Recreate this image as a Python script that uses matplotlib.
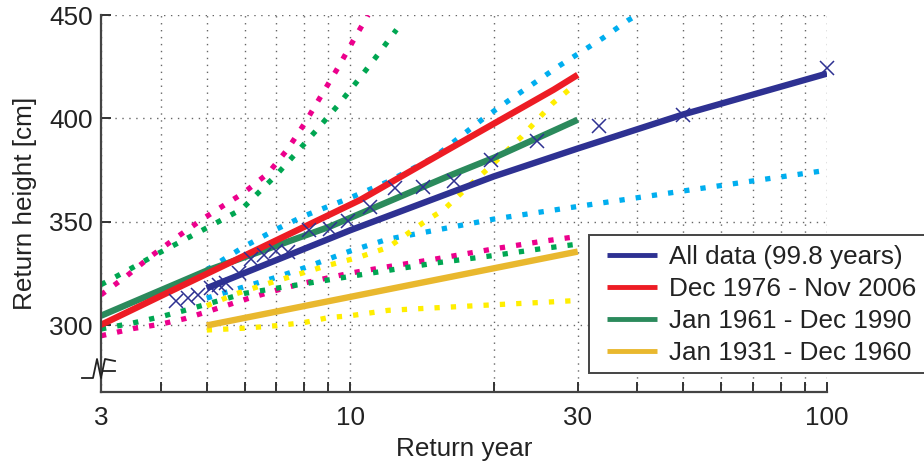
import matplotlib
matplotlib.use("Agg")
import matplotlib.pyplot as plt
from matplotlib.patches import Rectangle

plt.rcParams['font.family'] = ['Liberation Sans', 'DejaVu Sans']

""" dados lidos do grafico """
# empirical return levels (all data)
obs_ano = [4.32, 4.57, 4.8, 5.1, 5.3, 5.5, 5.84, 6.2, 6.6, 7.0, 7.4, 8.2, 9.06,
           9.9, 11.0, 12.4, 14.2, 16.5, 19.7, 24.7, 33.2, 49.8, 100]
obs_altura = [311.6, 313.5, 314.8, 318, 319.5, 320.5, 325.3, 332, 334.2, 336, 335.5,
              346, 346.5, 350.6, 357, 366.2, 366.9, 370, 380, 389.2, 396.2, 401.9, 424.6]

# fitted curves
todos_ano = [5, 10, 20, 30, 50, 100]
todos_altura = [318, 346, 372, 385.5, 402, 421.7]
todos_sup_ano = [5, 6, 7, 8, 10, 12, 15, 19, 21.5, 24.3, 27.5, 33.9, 38.3, 40]
todos_sup_altura = [326.9, 338.2, 346.5, 352.9, 361.7, 369.5, 381.3, 399.9, 408.7, 417.1,
                    425.6, 438.9, 447.5, 450]
todos_inf_ano = [5, 6, 7, 8, 10, 12, 15, 20, 30, 50, 100]
todos_inf_altura = [313.2, 318.7, 323.3, 327.8, 336, 341.7, 345.9, 351.4, 357.5, 365, 375]

p1976_ano = [3, 4.4, 10.5, 16, 26.7, 30]
p1976_altura = [300.3, 318.8, 360.7, 384.8, 413.9, 421.1]
p1976_sup_ano = [3, 3.4, 3.83, 4.33, 4.9, 5.25, 5.97, 6.73, 7.39, 8.04, 8.71, 9.41, 10.15, 10.9]
p1976_sup_altura = [314.8, 324, 333.7, 342.7, 351.4, 355.9, 364, 373.6, 385.2, 398, 411.4,
                    424.3, 437.7, 450]
p1976_inf_ano = [3, 3.5, 4, 4.5, 5, 6, 7, 8, 10, 12, 15, 20, 25, 30]
p1976_inf_altura = [295, 298.5, 300.6, 303.3, 306.6, 312.5, 317, 320.5, 325.3, 328.4, 332,
                    337, 340.5, 343]

p1961_ano = [3, 5, 9, 16, 20, 30]
p1961_altura = [304.7, 326.5, 347.5, 372, 381, 399.4]
p1961_sup_ano = [3, 3.46, 3.93, 4.51, 5.14, 5.92, 6.97, 7.72, 8.54, 9.44, 10.4, 11.42, 12.5]
p1961_sup_altura = [319.7, 327.4, 334.5, 341.7, 348.6, 356.2, 372.3, 383.6, 395, 406.6,
                    418.7, 430.8, 442.9]
p1961_inf_ano = [3, 3.5, 4, 4.5, 5, 6, 7, 8, 10, 12, 15, 20, 25, 30]
p1961_inf_altura = [298.3, 301.2, 304.2, 307.3, 310.3, 315.5, 318, 320.1, 323.7, 326.6,
                    330.1, 333.8, 337, 339.3]

p1931_ano = [5, 30]
p1931_altura = [300, 335.7]
p1931_sup_ano = [5, 5.74, 6.66, 7.8, 8.9, 10.4, 12, 12.8, 13.6, 14.6, 15.7, 17.4, 19.5,
                 22.9, 26.6, 29.5]
p1931_sup_altura = [309.5, 315.2, 320, 324.8, 328.8, 332.9, 337.7, 342.2, 346.6, 351.4,
                    355.9, 365.6, 376, 391.3, 407.4, 416]
p1931_inf_ano = [5, 6, 7, 8, 9, 10, 12, 15, 20, 25, 29]
p1931_inf_altura = [297.8, 298.7, 299.9, 301.4, 303.8, 304.7, 307.3, 308.5, 310, 311.1, 311.9]

legendas = ['All data (99.8 years)', 'Dec 1976 - Nov 2006',
            'Jan 1961 - Dec 1990', 'Jan 1931 - Dec 1960']

x_maiores = [3, 10, 30, 100]
x_menores = [4, 5, 6, 7, 8, 9, 20, 40, 50, 60, 70, 80, 90]
y_ticks = [300, 350, 400, 450]

AZUL = '#2E3192'
VERMELHO = '#ED1C24'
VERDE = '#2B8A5C'
OURO = '#E9B82E'
ROSA = '#EC008C'
VERDE_CLARO = '#00A651'
CIANO = '#00AEEF'
AMARELO = '#FFEE00'
TEXTO = '#222222'
FONTE = 18.8

W, H = 924, 462
fig = plt.figure(figsize=(W / 100, H / 100), dpi=100)
ax = fig.add_axes([101 / W, 1 - 391.7 / H, 726 / W, 376.7 / H])

pontilhado = dict(lw=3.8, linestyle=(0, (1, 2.1)), dash_capstyle='butt')
for xs, ys, cor in [(p1976_sup_ano, p1976_sup_altura, ROSA),
                    (p1976_inf_ano, p1976_inf_altura, ROSA),
                    (p1961_sup_ano, p1961_sup_altura, VERDE_CLARO),
                    (p1961_inf_ano, p1961_inf_altura, VERDE_CLARO),
                    (todos_sup_ano, todos_sup_altura, CIANO),
                    (todos_inf_ano, todos_inf_altura, CIANO),
                    (p1931_sup_ano, p1931_sup_altura, AMARELO),
                    (p1931_inf_ano, p1931_inf_altura, AMARELO)]:
    ax.plot(xs, ys, color=cor, **pontilhado)

l4, = ax.plot(p1931_ano, p1931_altura, color=OURO, lw=4.6, solid_capstyle='butt')
l3, = ax.plot(p1961_ano, p1961_altura, color=VERDE, lw=4.6, solid_capstyle='butt')
l2, = ax.plot(p1976_ano, p1976_altura, color=VERMELHO, lw=4.6, solid_capstyle='butt')
l1, = ax.plot(todos_ano, todos_altura, color=AZUL, lw=4.6, solid_capstyle='butt')
ax.plot(obs_ano, obs_altura, linestyle='none', marker='x', ms=10, mew=1.1,
        color=AZUL, clip_on=False, zorder=5)

ax.set_xscale('log')
ax.set_xlim(3, 100)
ax.set_ylim(268, 450)
ax.set_xticks(x_maiores)
ax.set_xticklabels([str(v) for v in x_maiores])
ax.set_xticks(x_menores, minor=True)
ax.set_xticklabels([], minor=True)
ax.set_yticks(y_ticks)

ax.grid(True, which='both', axis='x', color='#666666', lw=1, linestyle=(0, (1, 4)))
ax.grid(True, which='major', axis='y', color='#666666', lw=1, linestyle=(0, (1, 4)))

for lado in ['top', 'right']:
    ax.spines[lado].set_visible(False)
for lado in ['left', 'bottom']:
    ax.spines[lado].set_color('#444444')
    ax.spines[lado].set_linewidth(1.6)

ax.tick_params(which='both', direction='in', length=7, width=1.4, color='#333333',
               labelsize=FONTE, labelcolor=TEXTO)
ax.tick_params(axis='x', which='both', pad=10)
ax.tick_params(axis='y', pad=6)

ax.set_xlabel('Return year', fontsize=FONTE, color=TEXTO, labelpad=5)
ax.set_ylabel('Return height [cm]', fontsize=FONTE, color=TEXTO, labelpad=9)

# simbolo de quebra do eixo (em pixels da figura)
zx = [82, 93, 97, 101, 105, 115]
zy = [378, 378, 359, 378, 359, 361]
fig.add_artist(plt.Line2D([v / W for v in zx], [1 - v / H for v in zy],
                          color=TEXTO, lw=1.3))
fig.add_artist(plt.Line2D([103 / W, 115 / W], [1 - 371 / H, 1 - 371 / H],
                          color=TEXTO, lw=1.3))

# moldura da legenda
fig.add_artist(Rectangle((589 / W, 1 - 373 / H), 340 / W, 138.3 / H,
                         transform=fig.transFigure, facecolor='white',
                         edgecolor='#444444', lw=1.4, zorder=3))
leg = fig.legend([l1, l2, l3, l4], legendas, loc='upper left',
                 bbox_to_anchor=(607 / W, 1 - 245 / H), fontsize=FONTE, frameon=False,
                 borderpad=0, labelspacing=0.31, handlelength=1.93,
                 handletextpad=0.45, borderaxespad=0)
leg.set_zorder(4)
for linha in leg.get_lines():
    linha.set_linewidth(3.5)
for t in leg.get_texts():
    t.set_color(TEXTO)

fig.savefig('out.png', dpi=100)
